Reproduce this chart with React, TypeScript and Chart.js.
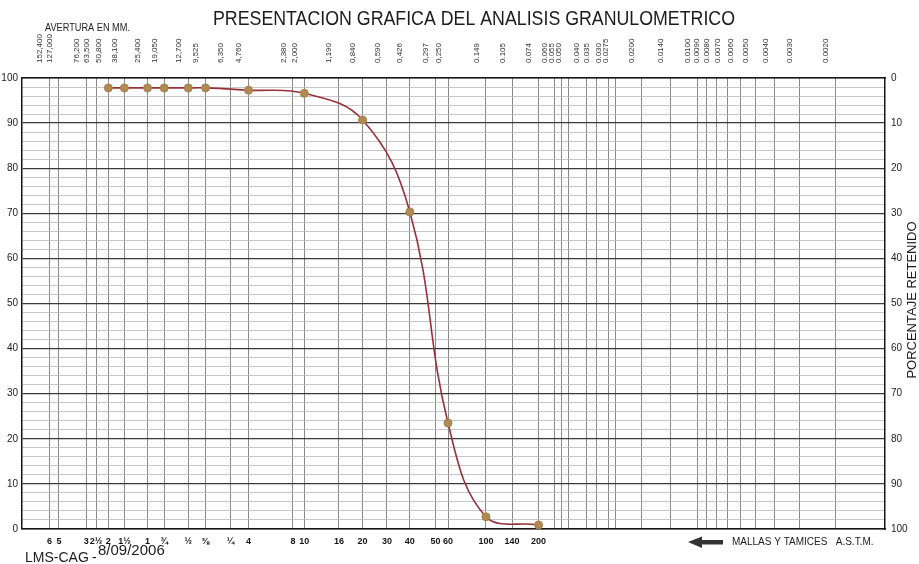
import React, { useEffect, useRef } from 'react';
import { Chart, registerables, Scale } from 'chart.js';

// ---- grid (sieve openings, mm) and tick labels ----
const MM_TICKS = [
  152.4, 127, 76.2, 63.5, 50.8, 38.1, 25.4, 19.05, 12.7, 9.525,
  6.35, 4.76, 2.38, 2.0, 1.19, 0.84, 0.59, 0.426, 0.297, 0.25,
  0.149, 0.105, 0.074, 0.06, 0.055, 0.05, 0.04, 0.035, 0.03, 0.0275,
  0.02, 0.014, 0.01, 0.009, 0.008, 0.007, 0.006, 0.005, 0.004, 0.003, 0.002,
];
const MM_LABELS = [
  '152,400', '127,000', '76,200', '63,500', '50,800', '38,100', '25,400', '19,050', '12,700', '9,525',
  '6,350', '4,760', '2,380', '2,000', '1,190', '0,840', '0,590', '0,426', '0,297', '0,250',
  '0.149', '0.105', '0.074', '0.060', '0.055', '0.050', '0.040', '0.035', '0.030', '0.0275',
  '0.0200', '0.0140', '0.0100', '0.0090', '0.0080', '0.0070', '0.0060', '0.0050', '0.0040', '0.0030', '0.0020',
];
const SIEVE_LABELS = [
  '6', '5', '3', '2½', '2', '1½', '1', '¾', '½', '⅜',
  '¼', '4', '8', '10', '16', '20', '30', '40', '50', '60',
  '100', '140', '200',
];

// ---- test results ----
const TEST_SIEVES_MM = [50.8, 38.1, 25.4, 19.05, 12.7, 9.525, 4.76, 2.0, 0.84, 0.426, 0.25, 0.149, 0.074];
const PERCENT_PASSING = [97.8, 97.8, 97.8, 97.8, 97.8, 97.8, 97.3, 96.6, 90.7, 70.3, 23.5, 2.7, 0.9];

const PASSING_TICKS_STEP = 2;
const LABEL_STEP = 10;

const TITLE = 'PRESENTACION GRAFICA DEL ANALISIS GRANULOMETRICO';
const TOP_CAPTION = 'AVERTURA EN MM.';
const RIGHT_TITLE = 'PORCENTAJE RETENIDO';
const SHEET_ID = 'LMS-CAG';
const SHEET_DATE = '8/09/2006';
const SIEVE_CAPTION = 'MALLAS Y TAMICES   A.S.T.M.';

const FONT = '"Liberation Sans", Arial, Helvetica, sans-serif';

// Logarithmic scale (reversed: coarse on the left) with a progressive stretch
// towards the fine sizes, like the printed granulometric sheet.
class SieveScale extends (Scale as any) {
  static id = 'sieve';
  static defaults = {};

  determineDataLimits() {
    this.min = this.options.min;
    this.max = this.options.max;
  }
  buildTicks() {
    const vals = this.options.gridValues || [];
    return vals.map((value: number) => ({ value }));
  }
  depth(v: number) {
    return Math.log10(this.max / v);
  }
  stretch(t: number) {
    const c = this.options.curvature || 0;
    return t + c * t * t;
  }
  span() {
    return this.stretch(this.depth(this.min));
  }
  configure() {
    super.configure();
    this._span = this.span();
  }
  getPixelForValue(value: number) {
    const span = this._span || this.span();
    return this.getPixelForDecimal(this.stretch(this.depth(value)) / span);
  }
  getValueForPixel(pixel: number) {
    const span = this._span || this.span();
    const s = this.getDecimalForPixel(pixel) * span;
    const c = this.options.curvature || 0;
    const t = c ? (Math.sqrt(1 + 4 * c * s) - 1) / (2 * c) : s;
    return this.max / Math.pow(10, t);
  }
  getLabelForValue(value: number) {
    return String(value);
  }
}

Chart.register(...registerables, SieveScale as any);

const sheetText = {
  id: 'sheetText',
  afterDraw(chart: any) {
    const ctx = chart.ctx;
    ctx.save();
    ctx.fillStyle = '#1c1c1c';

    ctx.textAlign = 'center';
    ctx.textBaseline = 'middle';
    ctx.font = `20px ${FONT}`;
    ctx.fillText(TITLE, 474, 19, 522);

    ctx.textAlign = 'left';
    ctx.font = `10px ${FONT}`;
    ctx.fillText(TOP_CAPTION, 45, 28, 85);

    ctx.textBaseline = 'alphabetic';
    ctx.font = `14px ${FONT}`;
    ctx.fillText(SHEET_ID, 25, 562, 66);
    ctx.fillText('-', 92, 562);
    ctx.font = `15px ${FONT}`;
    ctx.fillText(SHEET_DATE, 98, 555, 77);

    // arrow pointing to the coarse side
    ctx.fillStyle = '#333';
    ctx.beginPath();
    ctx.moveTo(688, 542);
    ctx.lineTo(702, 536.5);
    ctx.lineTo(702, 540);
    ctx.lineTo(723, 540);
    ctx.lineTo(723, 544.5);
    ctx.lineTo(702, 544.5);
    ctx.lineTo(702, 548);
    ctx.closePath();
    ctx.fill();

    ctx.fillStyle = '#1c1c1c';
    ctx.textBaseline = 'middle';
    ctx.font = `10px ${FONT}`;
    ctx.fillText(SIEVE_CAPTION, 732, 542, 146);

    ctx.translate(912, 300);
    ctx.rotate(-Math.PI / 2);
    ctx.textAlign = 'center';
    ctx.font = `13px ${FONT}`;
    ctx.fillText(RIGHT_TITLE, 0, 0);
    ctx.restore();
  },
};

export default function App() {
  const ref = useRef<HTMLCanvasElement>(null);

  useEffect(() => {
    if (!ref.current) return;
    const sieveAxis = {
      type: 'sieve',
      min: 0.00114,
      max: 261,
      curvature: 0.0736,
      gridValues: MM_TICKS,
    };
    const border = { display: true, color: '#161616', width: 1.5 };
    const chart = new Chart(ref.current, {
      type: 'line',
      data: {
        datasets: [
          {
            data: TEST_SIEVES_MM.map((x, i) => ({ x, y: PERCENT_PASSING[i] })),
            borderColor: '#98303a',
            borderWidth: 1.6,
            pointRadius: 4,
            pointBackgroundColor: '#b08a55',
            pointBorderColor: '#a67f4c',
            pointBorderWidth: 1,
            tension: 0.4,
            xAxisID: 'x',
            yAxisID: 'y',
          },
        ],
      },
      plugins: [sheetText],
      options: {
        responsive: false,
        animation: false,
        devicePixelRatio: 1,
        layout: { padding: 0 },
        font: { family: FONT },
        plugins: { legend: { display: false }, tooltip: { enabled: false } },
        scales: {
          x: {
            ...sieveAxis,
            position: 'bottom',
            grid: { color: '#8a8a8a', lineWidth: 1, drawTicks: false },
            border,
            ticks: {
              autoSkip: false,
              minRotation: 0,
              maxRotation: 0,
              padding: 7,
              color: '#151515',
              font: { family: FONT, size: 9, weight: 'bold' },
              callback: (_v: any, i: number) => SIEVE_LABELS[i] ?? '',
            },
            afterFit: (s: any) => { s.height = 35; },
          },
          x2: {
            ...sieveAxis,
            axis: 'x',
            position: 'top',
            grid: { display: false, drawTicks: false },
            border,
            ticks: {
              autoSkip: false,
              minRotation: 90,
              maxRotation: 90,
              padding: 15,
              color: '#333',
              font: { family: FONT, size: 8 },
              callback: (_v: any, i: number) => MM_LABELS[i] ?? '',
            },
            afterFit: (s: any) => { s.height = 78; },
          },
          y: {
            type: 'linear',
            position: 'left',
            min: 0,
            max: 100,
            grid: {
              drawTicks: false,
              color: (c: any) => (c.tick && c.tick.value % LABEL_STEP === 0 ? '#3a3a3a' : '#b9b9b9'),
              lineWidth: (c: any) => (c.tick && c.tick.value % LABEL_STEP === 0 ? 1.3 : 0.8),
            },
            border,
            ticks: {
              stepSize: PASSING_TICKS_STEP,
              autoSkip: false,
              padding: 4,
              color: '#1c1c1c',
              font: { family: FONT, size: 10 },
              callback: (v: any) => (Number(v) % LABEL_STEP === 0 ? String(v) : ''),
            },
            afterFit: (s: any) => { s.width = 22; },
          },
          yR: {
            type: 'linear',
            position: 'right',
            min: 0,
            max: 100,
            reverse: true,
            grid: { display: false, drawTicks: false },
            border,
            ticks: {
              stepSize: LABEL_STEP,
              autoSkip: false,
              padding: 6,
              color: '#1c1c1c',
              font: { family: FONT, size: 10 },
            },
            afterFit: (s: any) => { s.width = 34; },
          },
        },
      } as any,
    } as any);
    return () => chart.destroy();
  }, []);

  return (
    <div style={{ position: 'fixed', left: 0, top: 0, width: 919, height: 564, background: '#fff' }}>
      <canvas ref={ref} width={919} height={564} style={{ display: 'block', width: 919, height: 564 }} />
    </div>
  );
}
